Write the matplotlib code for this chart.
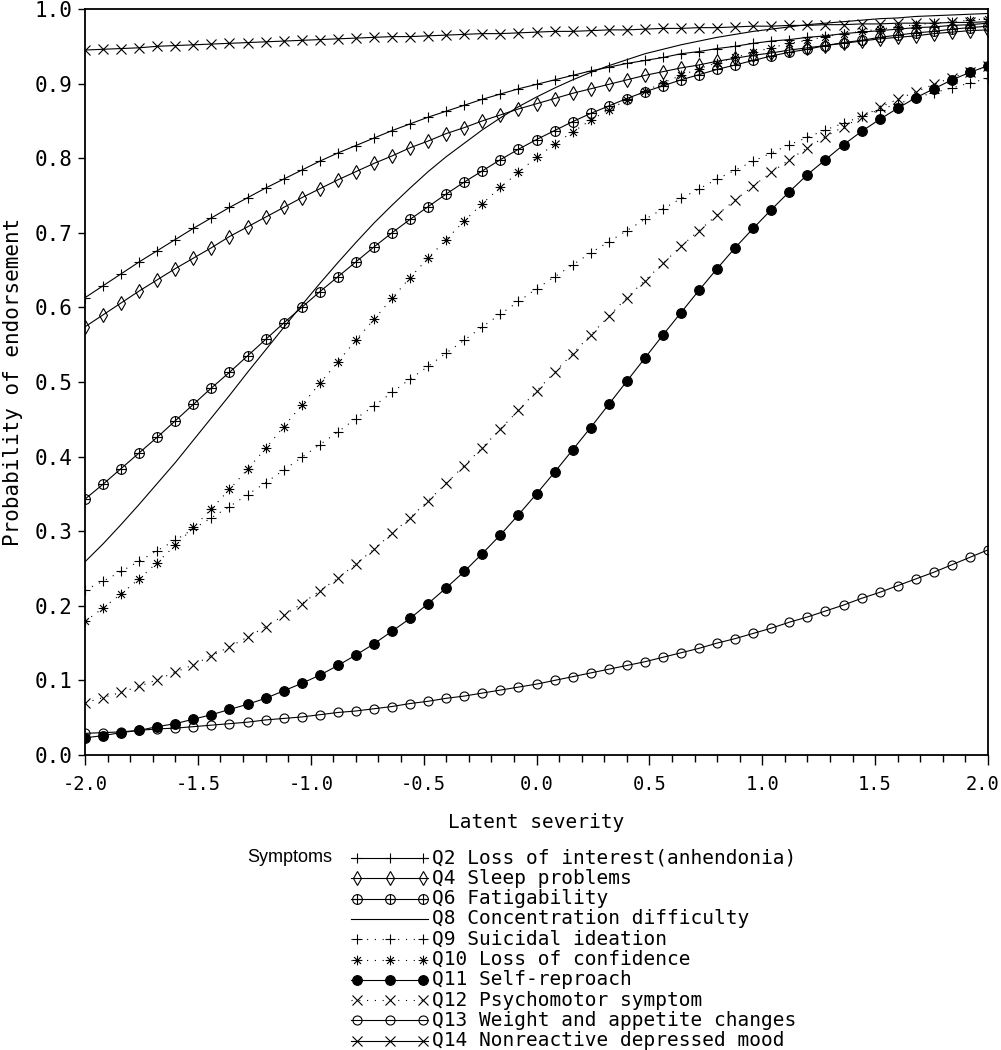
import numpy as np
import matplotlib
matplotlib.use("Agg")
import matplotlib.pyplot as plt
from matplotlib.path import Path
from matplotlib.ticker import MultipleLocator, FuncFormatter

# Latent severity grid (points where the curves are marked)
severity = [-2.00, -1.92, -1.84, -1.76, -1.68, -1.60, -1.52, -1.44, -1.36, -1.28,
            -1.20, -1.12, -1.04, -0.96, -0.88, -0.80, -0.72, -0.64, -0.56, -0.48,
            -0.40, -0.32, -0.24, -0.16, -0.08, 0.00, 0.08, 0.16, 0.24, 0.32,
            0.40, 0.48, 0.56, 0.64, 0.72, 0.80, 0.88, 0.96, 1.04, 1.12,
            1.20, 1.28, 1.36, 1.44, 1.52, 1.60, 1.68, 1.76, 1.84, 1.92,
            2.00]

# Probability of endorsement
q2 = [0.613, 0.629, 0.645, 0.661, 0.676, 0.691, 0.706, 0.720, 0.734, 0.747,
      0.760, 0.772, 0.784, 0.796, 0.807, 0.817, 0.827, 0.837, 0.846, 0.855,
      0.863, 0.871, 0.879, 0.886, 0.893, 0.899, 0.905, 0.911, 0.917, 0.922,
      0.927, 0.931, 0.935, 0.940, 0.943, 0.947, 0.950, 0.954, 0.957, 0.959,
      0.962, 0.964, 0.967, 0.969, 0.971, 0.973, 0.975, 0.976, 0.978, 0.979,
      0.981]
q4 = [0.574, 0.590, 0.606, 0.622, 0.637, 0.652, 0.666, 0.680, 0.695, 0.708,
      0.721, 0.734, 0.747, 0.759, 0.771, 0.782, 0.793, 0.803, 0.814, 0.823,
      0.833, 0.841, 0.850, 0.858, 0.866, 0.873, 0.880, 0.887, 0.893, 0.899,
      0.905, 0.911, 0.916, 0.921, 0.925, 0.930, 0.934, 0.938, 0.941, 0.945,
      0.948, 0.951, 0.954, 0.957, 0.960, 0.962, 0.964, 0.967, 0.969, 0.971,
      0.972]
q6 = [0.343, 0.363, 0.384, 0.405, 0.426, 0.448, 0.470, 0.492, 0.513, 0.535,
      0.557, 0.579, 0.600, 0.621, 0.641, 0.661, 0.681, 0.700, 0.718, 0.735,
      0.752, 0.768, 0.783, 0.798, 0.812, 0.825, 0.837, 0.849, 0.860, 0.870,
      0.880, 0.889, 0.897, 0.905, 0.912, 0.919, 0.925, 0.931, 0.937, 0.942,
      0.946, 0.951, 0.955, 0.958, 0.962, 0.965, 0.968, 0.970, 0.973, 0.975,
      0.977]
q8 = [0.259, 0.283, 0.309, 0.336, 0.364, 0.392, 0.422, 0.452, 0.482, 0.513,
      0.543, 0.573, 0.603, 0.632, 0.660, 0.687, 0.713, 0.737, 0.760, 0.782,
      0.802, 0.820, 0.838, 0.854, 0.869, 0.882, 0.894, 0.905, 0.915, 0.924,
      0.932, 0.940, 0.946, 0.952, 0.957, 0.962, 0.966, 0.970, 0.973, 0.976,
      0.979, 0.981, 0.983, 0.985, 0.987, 0.988, 0.990, 0.991, 0.992, 0.993,
      0.994]
q9 = [0.221, 0.233, 0.246, 0.260, 0.274, 0.288, 0.303, 0.318, 0.333, 0.349,
      0.365, 0.382, 0.399, 0.416, 0.433, 0.451, 0.468, 0.486, 0.504, 0.521,
      0.539, 0.556, 0.574, 0.591, 0.608, 0.625, 0.641, 0.657, 0.673, 0.688,
      0.703, 0.718, 0.732, 0.746, 0.759, 0.772, 0.784, 0.796, 0.807, 0.818,
      0.828, 0.838, 0.847, 0.856, 0.865, 0.873, 0.881, 0.888, 0.894, 0.901,
      0.907]
q10 = [0.179, 0.197, 0.216, 0.236, 0.258, 0.281, 0.305, 0.330, 0.356, 0.383,
       0.411, 0.440, 0.469, 0.498, 0.527, 0.556, 0.584, 0.612, 0.640, 0.666,
       0.691, 0.716, 0.739, 0.761, 0.781, 0.801, 0.819, 0.835, 0.851, 0.865,
       0.878, 0.890, 0.901, 0.911, 0.920, 0.928, 0.935, 0.942, 0.948, 0.954,
       0.958, 0.963, 0.967, 0.970, 0.973, 0.976, 0.979, 0.981, 0.983, 0.985,
       0.987]
q11 = [0.023, 0.026, 0.030, 0.033, 0.038, 0.042, 0.048, 0.054, 0.061, 0.068,
       0.076, 0.086, 0.096, 0.107, 0.120, 0.134, 0.149, 0.166, 0.183, 0.203,
       0.224, 0.246, 0.270, 0.295, 0.322, 0.350, 0.379, 0.409, 0.439, 0.470,
       0.501, 0.532, 0.563, 0.593, 0.623, 0.652, 0.680, 0.706, 0.731, 0.755,
       0.778, 0.798, 0.818, 0.836, 0.852, 0.867, 0.881, 0.893, 0.905, 0.915,
       0.924]
q12 = [0.070, 0.077, 0.084, 0.092, 0.101, 0.111, 0.121, 0.133, 0.145, 0.158,
       0.172, 0.187, 0.203, 0.220, 0.237, 0.256, 0.276, 0.297, 0.318, 0.341,
       0.364, 0.388, 0.412, 0.437, 0.462, 0.488, 0.513, 0.538, 0.563, 0.588,
       0.613, 0.636, 0.659, 0.682, 0.703, 0.724, 0.744, 0.763, 0.781, 0.798,
       0.814, 0.829, 0.842, 0.855, 0.868, 0.879, 0.889, 0.899, 0.908, 0.916,
       0.923]
q13 = [0.029, 0.030, 0.031, 0.033, 0.035, 0.036, 0.038, 0.040, 0.042, 0.044,
       0.047, 0.049, 0.051, 0.054, 0.057, 0.059, 0.062, 0.065, 0.069, 0.072,
       0.076, 0.079, 0.083, 0.087, 0.091, 0.095, 0.100, 0.105, 0.110, 0.115,
       0.120, 0.125, 0.131, 0.137, 0.143, 0.150, 0.156, 0.163, 0.170, 0.178,
       0.185, 0.193, 0.201, 0.210, 0.218, 0.227, 0.236, 0.245, 0.255, 0.265,
       0.275]
q14 = [0.945, 0.946, 0.947, 0.948, 0.950, 0.951, 0.952, 0.953, 0.954, 0.955,
       0.956, 0.957, 0.958, 0.959, 0.960, 0.961, 0.962, 0.963, 0.963, 0.964,
       0.965, 0.966, 0.967, 0.967, 0.968, 0.969, 0.970, 0.970, 0.971, 0.972,
       0.972, 0.973, 0.974, 0.974, 0.975, 0.975, 0.976, 0.977, 0.977, 0.978,
       0.978, 0.979, 0.979, 0.980, 0.980, 0.981, 0.981, 0.981, 0.982, 0.982,
       0.983]

labels = ['Q2 Loss of interest(anhendonia)', 'Q4 Sleep problems', 'Q6 Fatigability',
          'Q8 Concentration difficulty', 'Q9 Suicidal ideation', 'Q10 Loss of confidence',
          'Q11 Self-reproach', 'Q12 Psychomotor symptom', 'Q13 Weight and appetite changes',
          'Q14 Nonreactive depressed mood']
series = [q2, q4, q6, q8, q9, q10, q11, q12, q13, q14]

# custom SAS-like symbols
oplus = Path.make_compound_path(
    Path.unit_circle(),
    Path([(-1, 0), (1, 0), (0, -1), (0, 1)],
         [Path.MOVETO, Path.LINETO, Path.MOVETO, Path.LINETO]))
d = 0.7071
asterisk = Path([(-1, 0), (1, 0), (0, -1), (0, 1), (-d, -d), (d, d), (-d, d), (d, -d)],
                [Path.MOVETO, Path.LINETO] * 4)

solid = '-'
dotted = (0, (1, 6))
styles = [
    dict(ls=solid, marker='+', ms=7.5, mfc='none'),
    dict(ls=solid, marker='d', ms=7.5, mfc='none'),
    dict(ls=solid, marker=oplus, ms=7, mfc='none'),
    dict(ls=solid, marker=None, ms=0, mfc='none'),
    dict(ls=dotted, marker='+', ms=7.5, mfc='none'),
    dict(ls=dotted, marker=asterisk, ms=7, mfc='none'),
    dict(ls=solid, marker='o', ms=7, mfc='black'),
    dict(ls=dotted, marker='x', ms=7, mfc='none'),
    dict(ls=solid, marker='o', ms=6.5, mfc='none'),
    dict(ls=solid, marker='x', ms=7, mfc='none'),
]

plt.rcParams['font.family'] = ['DejaVu Sans Mono']
W, H = 1001, 1050
fig = plt.figure(figsize=(W / 100, H / 100), dpi=100)
ax = fig.add_axes([85 / W, 1 - 755 / H, (988 - 85) / W, (755 - 9) / H])

for vals, st in zip(series, styles):
    ax.plot(severity, vals, color='black', lw=0.8, ls=st['ls'], marker=st['marker'],
            ms=st['ms'], mfc=st['mfc'], mec='black', mew=0.8)

ax.set_xlim(-2, 2)
ax.set_ylim(0, 1)
ax.xaxis.set_major_locator(MultipleLocator(0.5))
ax.xaxis.set_minor_locator(MultipleLocator(0.1))
ax.yaxis.set_major_locator(MultipleLocator(0.1))
# the 2.0 label sits at the picture edge, it is drawn separately below
ax.xaxis.set_major_formatter(FuncFormatter(lambda v, p: '' if v > 1.99 else f'{v:.1f}'))
ax.yaxis.set_major_formatter(FuncFormatter(lambda v, p: f'{v:.1f}'))
ax.tick_params(axis='x', which='major', direction='out', length=7.2, width=1, pad=7, labelsize=13.5)
ax.tick_params(axis='x', which='minor', direction='out', length=5, width=1)
ax.tick_params(axis='y', which='major', direction='out', length=5, width=1, pad=4, labelsize=15)
for sp in ax.spines.values():
    sp.set_linewidth(1.3)
ax.annotate('2.0', xy=(2.0, 0), xycoords='data', xytext=(-4, -14.2),
            textcoords='offset points', ha='center', va='top', fontsize=13.5,
            annotation_clip=False)

fig.text(536.5 / W, 1 - 822 / H, 'Latent severity', ha='center', va='center', fontsize=14)
fig.text(13 / W, 1 - 382 / H, 'Probability of endorsement', ha='center', va='center',
         rotation=90, fontsize=15)

# legend drawn below the plot
lax = fig.add_axes([0, 0, 1, 1])
lax.set_xlim(0, W)
lax.set_ylim(H, 0)
lax.axis('off')
lax.text(247, 858, 'Symptoms', ha='left', va='center', fontsize=13,
         family=['Liberation Sans Narrow', 'Liberation Sans', 'DejaVu Sans'])
for i, (lab, st) in enumerate(zip(labels, styles)):
    y = 858 + i * 20.3
    lax.plot([351, 428], [y, y], color='black', lw=0.8, ls=st['ls'])
    if st['marker'] is not None:
        lax.plot([357, 390, 423], [y, y, y], ls='none', marker=st['marker'], ms=st['ms'],
                 mfc=st['mfc'], mec='black', mew=0.8)
    lax.text(432, y, lab, ha='left', va='center', fontsize=14)

fig.savefig('out.png', dpi=100)
